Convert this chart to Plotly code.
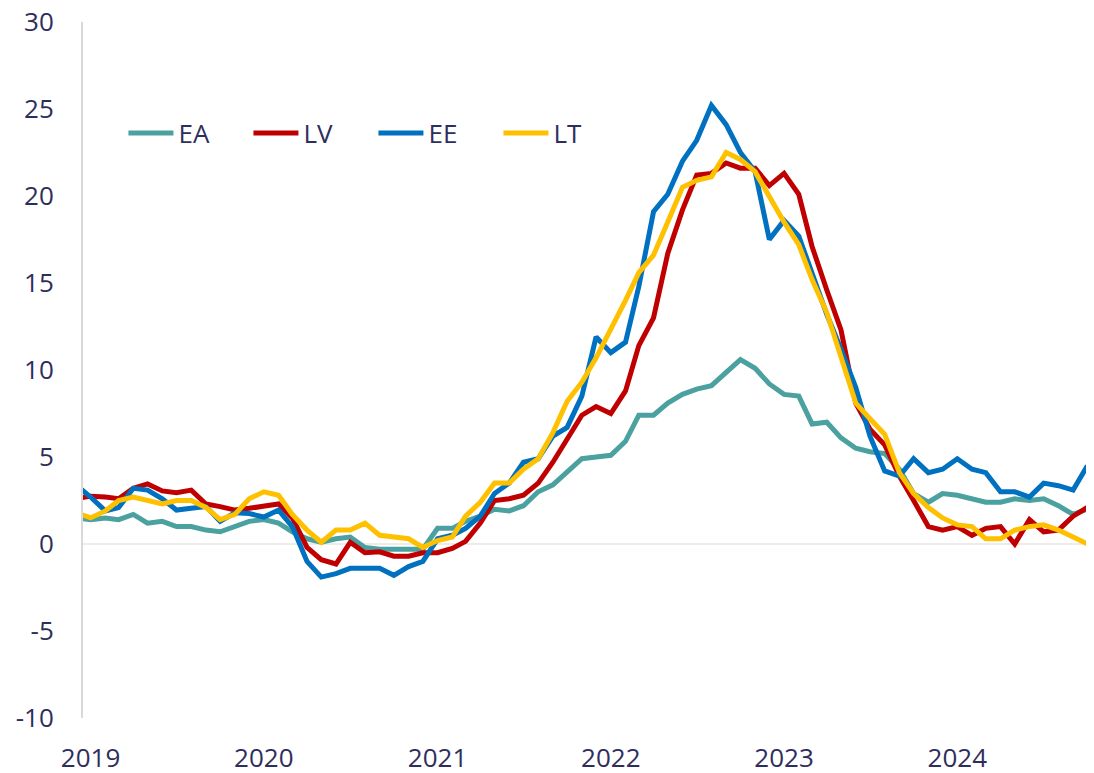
import pandas as pd
import plotly.graph_objects as go

# Monthly dates: Dec 2018 .. Oct 2024 (Dec 2018 only shows as the clipped segment at the axis)
months = pd.date_range("2018-12-01", "2024-10-01", freq="MS")

ea = [1.5,
      1.4, 1.5, 1.4, 1.7, 1.2, 1.3, 1.0, 1.0, 0.8, 0.7, 1.0, 1.3,
      1.4, 1.2, 0.7, 0.3, 0.1, 0.3, 0.4, -0.2, -0.3, -0.3, -0.3, -0.3,
      0.9, 0.9, 1.3, 1.6, 2.0, 1.9, 2.2, 3.0, 3.4, 4.1, 4.9, 5.0,
      5.1, 5.9, 7.4, 7.4, 8.1, 8.6, 8.9, 9.1, 9.9, 10.6, 10.1, 9.2,
      8.6, 8.5, 6.9, 7.0, 6.1, 5.5, 5.3, 5.2, 4.3, 2.9, 2.4, 2.9,
      2.8, 2.6, 2.4, 2.4, 2.6, 2.5, 2.6, 2.2, 1.7, 2.0]

lv = [2.6,
      2.75, 2.7, 2.6, 3.2, 3.45, 3.05, 2.95, 3.1, 2.3, 2.15, 1.95, 2.05,
      2.2, 2.3, 1.5, -0.2, -0.9, -1.15, 0.1, -0.5, -0.45, -0.7, -0.7, -0.5,
      -0.5, -0.25, 0.15, 1.2, 2.5, 2.6, 2.8, 3.5, 4.7, 6.0, 7.4, 7.9,
      7.5, 8.8, 11.4, 13.0, 16.7, 19.2, 21.2, 21.3, 21.9, 21.6, 21.6, 20.6,
      21.3, 20.1, 17.1, 14.6, 12.3, 8.1, 6.6, 5.7, 3.9, 2.5, 1.0, 0.8,
      1.0, 0.5, 0.9, 1.0, 0.0, 1.4, 0.7, 0.8, 1.6, 2.1]

ee = [3.4,
      2.7, 1.9, 2.1, 3.2, 3.1, 2.6, 1.95, 2.05, 2.15, 1.3, 1.8, 1.75,
      1.55, 1.95, 1.0, -1.0, -1.9, -1.7, -1.4, -1.4, -1.4, -1.8, -1.3, -1.0,
      0.3, 0.5, 0.9, 1.6, 2.9, 3.5, 4.7, 4.9, 6.2, 6.7, 8.5, 11.9,
      11.0, 11.6, 14.8, 19.1, 20.1, 22.0, 23.2, 25.2, 24.1, 22.5, 21.4, 17.5,
      18.6, 17.7, 15.6, 13.2, 11.2, 9.0, 6.2, 4.2, 3.9, 4.9, 4.1, 4.3,
      4.9, 4.3, 4.1, 3.0, 3.0, 2.7, 3.5, 3.35, 3.1, 4.5]

lt = [1.8,
      1.5, 1.9, 2.5, 2.7, 2.5, 2.3, 2.5, 2.5, 2.1, 1.4, 1.7, 2.6,
      3.0, 2.8, 1.7, 0.8, 0.1, 0.8, 0.8, 1.2, 0.5, 0.4, 0.3, -0.2,
      0.2, 0.4, 1.6, 2.4, 3.5, 3.5, 4.3, 4.9, 6.4, 8.2, 9.3, 10.7,
      12.3, 14.0, 15.6, 16.6, 18.5, 20.5, 20.9, 21.1, 22.5, 22.1, 21.4, 20.0,
      18.5, 17.2, 15.2, 13.3, 10.8, 8.1, 7.2, 6.3, 4.1, 2.9, 2.1, 1.5,
      1.1, 1.0, 0.3, 0.3, 0.8, 1.0, 1.1, 0.8, 0.4, 0.0]

series_names = ["EA", "LV", "EE", "LT"]
series_colors = ["#4BA19F", "#C00000", "#0070C0", "#FFC000"]
year_ticks = ["2019-01-01", "2020-01-01", "2021-01-01", "2022-01-01", "2023-01-01", "2024-01-01"]
year_labels = ["2019", "2020", "2021", "2022", "2023", "2024"]
y_ticks = [-10, -5, 0, 5, 10, 15, 20, 25, 30]
y_labels = ["-10", "-5", "0", "5", "10", "15", "20", "25", "30"]

text_color = "#2E2E5C"
font_family = "Open Sans"
fsize = 26

fig = go.Figure()
for name, vals, col in zip(series_names, [ea, lv, ee, lt], series_colors):
    fig.add_trace(go.Scatter(x=months, y=vals, mode="lines", name=name,
                             line=dict(color=col, width=5)))

# page body has an 8px default margin, so the figure is sized to fit the 1094x773 window
fig.update_layout(
    width=1086, height=765,
    margin=dict(l=75, r=0, t=14, b=55, autoexpand=False),
    paper_bgcolor="white", plot_bgcolor="white",
    font=dict(family=font_family, size=fsize, color=text_color),
    showlegend=True,
    legend=dict(orientation="h", x=0.04, xanchor="left", y=0.8405, yanchor="middle",
                bgcolor="rgba(0,0,0,0)", font=dict(size=fsize, color=text_color),
                itemwidth=45, entrywidth=65, entrywidthmode="pixels"),
)

fig.update_xaxes(
    type="date", automargin=False,
    range=["2018-12-16", "2024-10-15"],
    tickvals=year_ticks, ticktext=year_labels,
    showgrid=False, showline=False, zeroline=False, ticks="",
    ticklabelstandoff=22, ticklabeloverflow="allow",
    tickfont=dict(size=fsize, color=text_color),
)

fig.update_yaxes(
    automargin=False,
    range=[-10, 30], tickvals=y_ticks, ticktext=y_labels,
    showgrid=False,
    zeroline=True, zerolinecolor="#EFEBE7", zerolinewidth=2,
    showline=True, linecolor="#D9D9D9", linewidth=2,
    ticks="", ticklabelstandoff=22, ticklabeloverflow="allow",
    tickfont=dict(size=fsize, color=text_color),
)

fig.write_html("out.html")
